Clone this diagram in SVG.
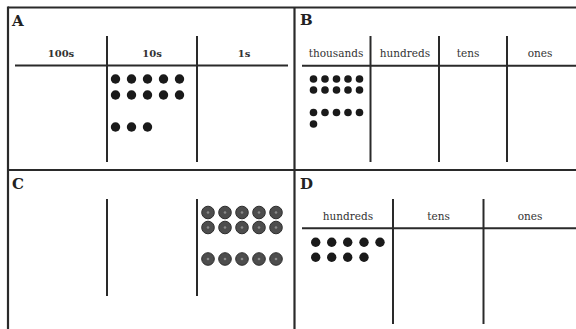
<svg xmlns="http://www.w3.org/2000/svg" width="576" height="329" viewBox="0 0 576 329">
<style>
.frame{stroke:#2a2a2a;stroke-width:2.2;fill:none}
.rule{stroke:#2a2a2a;stroke-width:2;fill:none}
.lab{font-family:"DejaVu Serif",serif;font-weight:bold;font-size:15px;fill:#222}
.hd{font-family:"DejaVu Serif",serif;font-size:10.5px;fill:#333;text-anchor:middle}
.hdb{font-family:"DejaVu Serif",serif;font-weight:bold;font-size:10px;fill:#333;text-anchor:middle}
.d{fill:#1a1a1a}
.g{fill:#4d4d4d;stroke:#2e2e2e;stroke-width:1}
.gc{fill:#8a8a8a}
</style>
<rect width="576" height="329" fill="#fff"/>
<g id="frame">
<line class="frame" x1="8" y1="7.5" x2="576" y2="7.5"/>
<line class="frame" x1="8" y1="6.5" x2="8" y2="329"/>
<line class="frame" x1="294.5" y1="7.5" x2="294.5" y2="329"/>
<line class="frame" x1="8" y1="170" x2="576" y2="170"/>
</g>
<g id="panelA">
<text class="lab" x="12" y="25.5">A</text>
<line class="rule" x1="15" y1="65.5" x2="288" y2="65.5"/>
<line class="rule" x1="107" y1="36" x2="107" y2="162"/>
<line class="rule" x1="197" y1="36" x2="197" y2="162"/>
<text class="hdb" x="61" y="57">100s</text>
<text class="hdb" x="152" y="57">10s</text>
<text class="hdb" x="244" y="57">1s</text>
<g>
<circle class="d" cx="115.5" cy="79" r="4.7"/><circle class="d" cx="131.5" cy="79" r="4.7"/><circle class="d" cx="147.5" cy="79" r="4.7"/><circle class="d" cx="163.5" cy="79" r="4.7"/><circle class="d" cx="179.5" cy="79" r="4.7"/>
<circle class="d" cx="115.5" cy="95" r="4.7"/><circle class="d" cx="131.5" cy="95" r="4.7"/><circle class="d" cx="147.5" cy="95" r="4.7"/><circle class="d" cx="163.5" cy="95" r="4.7"/><circle class="d" cx="179.5" cy="95" r="4.7"/>
<circle class="d" cx="115.5" cy="127" r="4.7"/><circle class="d" cx="131.5" cy="127" r="4.7"/><circle class="d" cx="147.5" cy="127" r="4.7"/>
</g>
</g>
<g id="panelB">
<text class="lab" x="300" y="25">B</text>
<line class="rule" x1="302" y1="65.7" x2="576" y2="65.7"/>
<line class="rule" x1="370.5" y1="36" x2="370.5" y2="162"/>
<line class="rule" x1="439" y1="36" x2="439" y2="162"/>
<line class="rule" x1="507" y1="36" x2="507" y2="162"/>
<text class="hd" x="336" y="57">thousands</text>
<text class="hd" x="405" y="57">hundreds</text>
<text class="hd" x="468" y="57">tens</text>
<text class="hd" x="540" y="57">ones</text>
<g>
<circle class="d" cx="313.5" cy="79" r="3.8"/><circle class="d" cx="325" cy="79" r="3.8"/><circle class="d" cx="336.5" cy="79" r="3.8"/><circle class="d" cx="348" cy="79" r="3.8"/><circle class="d" cx="359.5" cy="79" r="3.8"/>
<circle class="d" cx="313.5" cy="90" r="3.8"/><circle class="d" cx="325" cy="90" r="3.8"/><circle class="d" cx="336.5" cy="90" r="3.8"/><circle class="d" cx="348" cy="90" r="3.8"/><circle class="d" cx="359.5" cy="90" r="3.8"/>
<circle class="d" cx="313.5" cy="112.5" r="3.8"/><circle class="d" cx="325" cy="112.5" r="3.8"/><circle class="d" cx="336.5" cy="112.5" r="3.8"/><circle class="d" cx="348" cy="112.5" r="3.8"/><circle class="d" cx="359.5" cy="112.5" r="3.8"/>
<circle class="d" cx="313.5" cy="124" r="3.8"/>
</g>
</g>
<g id="panelC">
<text class="lab" x="12" y="189">C</text>
<line class="rule" x1="107" y1="199" x2="107" y2="296"/>
<line class="rule" x1="197" y1="199" x2="197" y2="296"/>
<g>
<circle class="g" cx="208" cy="212.5" r="6.3"/><circle class="g" cx="225" cy="212.5" r="6.3"/><circle class="g" cx="242" cy="212.5" r="6.3"/><circle class="g" cx="259" cy="212.5" r="6.3"/><circle class="g" cx="276" cy="212.5" r="6.3"/>
<circle class="g" cx="208" cy="227.5" r="6.3"/><circle class="g" cx="225" cy="227.5" r="6.3"/><circle class="g" cx="242" cy="227.5" r="6.3"/><circle class="g" cx="259" cy="227.5" r="6.3"/><circle class="g" cx="276" cy="227.5" r="6.3"/>
<circle class="g" cx="208" cy="259" r="6.3"/><circle class="g" cx="225" cy="259" r="6.3"/><circle class="g" cx="242" cy="259" r="6.3"/><circle class="g" cx="259" cy="259" r="6.3"/><circle class="g" cx="276" cy="259" r="6.3"/>
<circle class="gc" cx="208" cy="212.5" r="1.3"/><circle class="gc" cx="225" cy="212.5" r="1.3"/><circle class="gc" cx="242" cy="212.5" r="1.3"/><circle class="gc" cx="259" cy="212.5" r="1.3"/><circle class="gc" cx="276" cy="212.5" r="1.3"/>
<circle class="gc" cx="208" cy="227.5" r="1.3"/><circle class="gc" cx="225" cy="227.5" r="1.3"/><circle class="gc" cx="242" cy="227.5" r="1.3"/><circle class="gc" cx="259" cy="227.5" r="1.3"/><circle class="gc" cx="276" cy="227.5" r="1.3"/>
<circle class="gc" cx="208" cy="259" r="1.3"/><circle class="gc" cx="225" cy="259" r="1.3"/><circle class="gc" cx="242" cy="259" r="1.3"/><circle class="gc" cx="259" cy="259" r="1.3"/><circle class="gc" cx="276" cy="259" r="1.3"/>
</g>
</g>
<g id="panelD">
<text class="lab" x="300" y="189">D</text>
<line class="rule" x1="302" y1="228.3" x2="576" y2="228.3"/>
<line class="rule" x1="393" y1="199" x2="393" y2="324"/>
<line class="rule" x1="483.5" y1="199" x2="483.5" y2="324"/>
<text class="hd" x="348" y="220">hundreds</text>
<text class="hd" x="438.5" y="220">tens</text>
<text class="hd" x="530" y="220">ones</text>
<g>
<circle class="d" cx="315.7" cy="242.3" r="4.7"/><circle class="d" cx="331.7" cy="242.3" r="4.7"/><circle class="d" cx="347.7" cy="242.3" r="4.7"/><circle class="d" cx="364" cy="242.3" r="4.7"/><circle class="d" cx="380" cy="242.3" r="4.7"/>
<circle class="d" cx="315.7" cy="257.3" r="4.7"/><circle class="d" cx="331.7" cy="257.3" r="4.7"/><circle class="d" cx="347.7" cy="257.3" r="4.7"/><circle class="d" cx="364" cy="257.3" r="4.7"/>
</g>
</g>
</svg>
